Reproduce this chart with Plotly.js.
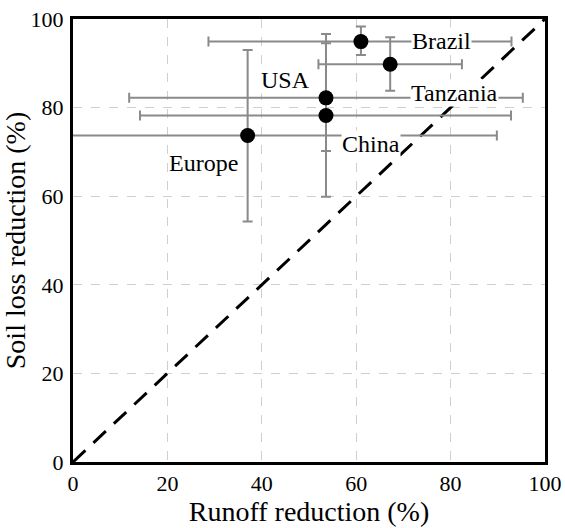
<!DOCTYPE html>
<html>
<head>
<meta charset="utf-8">
<script src="https://cdn.plot.ly/plotly-3.0.1.min.js"></script>
<style>html,body{margin:0;padding:0;background:#fff;}#chart{width:565px;height:528px;}</style>
</head>
<body>
<div id="chart"></div>
<script>
// Data
const regions   = ['Brazil', 'Tanzania', 'USA', 'China', 'Europe'];
const runoff    = [61.0, 67.2, 53.6, 53.6, 37.0];
const runoffLo  = [28.7, 52.0, 11.9, 14.2, -5.0];
const runoffHi  = [92.9, 82.4, 95.3, 92.8, 89.8];
const soilLoss   = [94.9, 89.8, 82.2, 78.2, 73.7];
const soilLossLo = [91.9, 83.8, 70.2, 59.9, 54.3];
const soilLossHi = [98.3, 95.9, 96.6, 94.5, 93.0];
const oneToOne = [0, 100];
const tickVals = [0, 20, 40, 60, 80, 100];

const serif = 'Liberation Serif, Times New Roman, serif';

const errX = {
  type: 'data', symmetric: false,
  array: runoffHi.map((h, i) => h - runoff[i]),
  arrayminus: runoff.map((v, i) => v - runoffLo[i]),
  color: '#8a8a8a', thickness: 2, width: 5
};
const errY = {
  type: 'data', symmetric: false,
  array: soilLossHi.map((h, i) => h - soilLoss[i]),
  arrayminus: soilLoss.map((v, i) => v - soilLossLo[i]),
  color: '#8a8a8a', thickness: 2, width: 5
};

const traces = [
  {
    x: oneToOne, y: oneToOne, mode: 'lines', type: 'scatter',
    line: {color: '#000', width: 3, dash: '17px,11px'},
    hoverinfo: 'skip', showlegend: false
  },
  {
    x: runoff, y: soilLoss, text: regions, mode: 'markers', type: 'scatter',
    marker: {color: '#000', size: 15},
    error_x: errX, error_y: errY, showlegend: false
  }
];

const labelPos = {
  Brazil:   [78.0, 95.0],
  Tanzania: [80.8, 83.4],
  USA:      [45.1, 86.3],
  China:    [63.1, 71.8],
  Europe:   [27.7, 67.4]
};

const annotations = regions.map(r => ({
  x: labelPos[r][0], y: labelPos[r][1], xref: 'x', yref: 'y',
  text: r, showarrow: false, bgcolor: '#fff', borderpad: 0,
  font: {family: serif, size: 24, color: '#000'}
}));

const axisCommon = {
  range: [0, 100], tickvals: tickVals, ticktext: tickVals.map(String),
  showgrid: true, gridcolor: '#cfcfcf', gridwidth: 1, griddash: 'dash',
  zeroline: false, showline: true, linecolor: '#000', linewidth: 3, mirror: true,
  ticks: '', tickfont: {family: serif, size: 22, color: '#000'}, fixedrange: true
};

const layout = {
  width: 565, height: 528,
  margin: {l: 73, r: 20, t: 19, b: 66},
  paper_bgcolor: '#fff', plot_bgcolor: '#fff',
  xaxis: Object.assign({}, axisCommon, {
    ticklabelstandoff: 0,
    title: {text: 'Runoff reduction (%)', font: {family: serif, size: 28, color: '#000'}, standoff: 0}
  }),
  yaxis: Object.assign({}, axisCommon, {
    ticklabelstandoff: 2,
    title: {text: 'Soil loss reduction (%)', font: {family: serif, size: 28, color: '#000'}, standoff: 2}
  }),
  annotations: annotations,
  showlegend: false
};

Plotly.newPlot('chart', traces, layout, {displayModeBar: false, staticPlot: true});
</script>
</body>
</html>
